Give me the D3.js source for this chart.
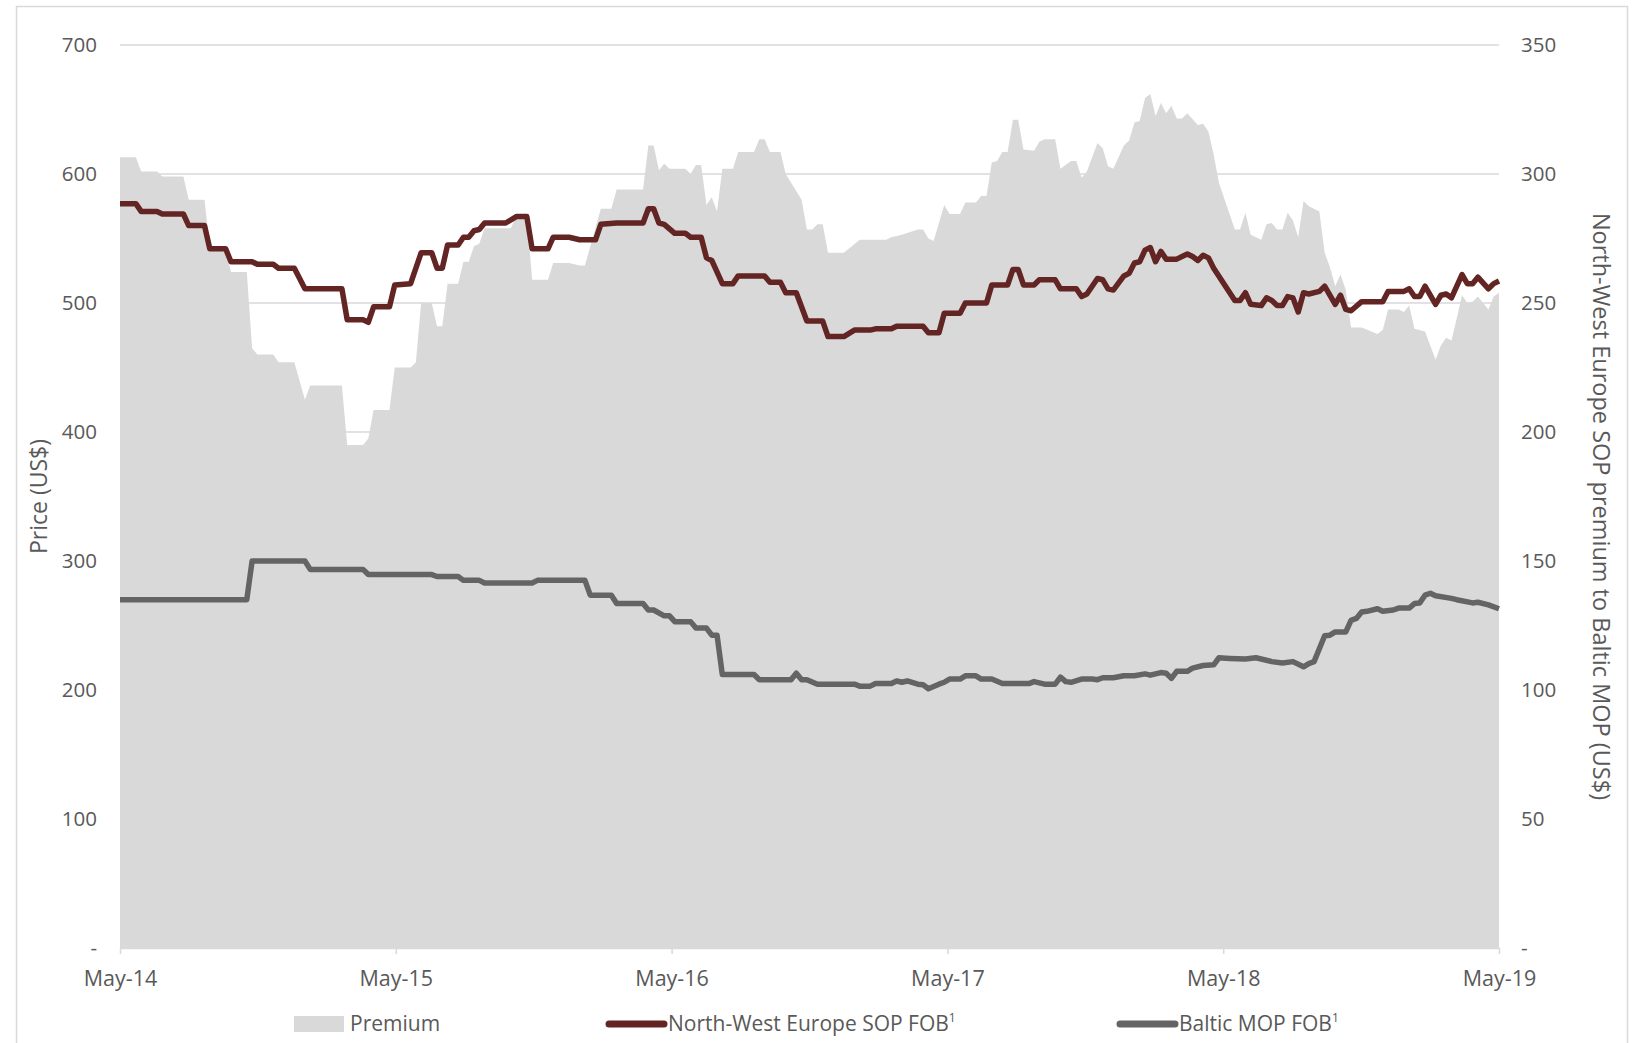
<!DOCTYPE html>
<html>
<head>
<meta charset="utf-8">
<script src="https://cdn.jsdelivr.net/npm/d3@7"></script>
<style>
    body { margin: 0; background: #fff; }
    svg { display: block; font-family: "Open Sans", sans-serif; }
</style>
</head>
<body>
<svg id="chart" width="1637" height="1043"></svg>
<script>
// Weekly series from May-14 to May-19, stored as [week index, US$]
const weekCount = 261;
const xTickLabels = ['May-14', 'May-15', 'May-16', 'May-17', 'May-18', 'May-19'];
const leftTicks = [0, 100, 200, 300, 400, 500, 600, 700];
const rightTicks = [0, 50, 100, 150, 200, 250, 300, 350];

// Premium (right axis)
const premium = [
    [0,306.5],[3,306.5],[4,301],[7,301],[8,299],[12,299],[13,290],[16,290],[17,271],[20,271],
    [21,262],[24,262],[25,232.5],[26,230],[29,230],[30,227],[33,227],[35,212.5],[36,218],[42,218],
    [43,195],[46,195],[47,197.5],[48,208.5],[51,208.5],[52,225],[55,225],[56,227],[57,250],[59,250],
    [60,241],[61,241],[62,257.5],[64,257.5],[65,266],[66,266],[67,272],[68,273],[69,279],[74,279],
    [75,284],[77,284],[78,259],[81,259],[82,265.5],[85,265.5],[87,264.5],[88,264.5],[91,286.5],[93,286.5],
    [94,294],[99,294],[100,311],[101,311],[102,301.5],[103,304],[104,302],[107,302],[108,300],[109,303.5],
    [110,303.5],[111,288],[112,291],[113,285.5],[114,302],[116,302],[117,308.5],[120,308.5],[121,313.5],[122,313.5],
    [123,308.5],[125,308.5],[126,300],[129,290],[130,278.5],[131,278.5],[132,280.5],[133,280.5],[134,269.5],[137,269.5],
    [140,274.5],[145,274.5],[146,275.5],[148,276.5],[151,278.5],[152,278.5],[153,275],[154,274],[156,288],[157,284.5],
    [159,284.5],[160,289],[162,289],[163,291.5],[164,291.5],[165,304.5],[166,305],[167,308.5],[168,308.5],[169,321],
    [170,321],[171,309.5],[173,309],[174,312.5],[175,313.5],[177,313.5],[178,302],[180,305],[181,305],[182,298.5],
    [183,301],[185,312],[186,310],[187,303],[188,302],[190,311],[191,313],[192,320],[193,320.5],[194,329.5],
    [195,331],[196,322.5],[197,327.5],[198,323.5],[199,326.5],[200,321.5],[201,321.5],[202,323.5],[204,319],[205,319.5],
    [206,316.5],[207,307.5],[208,296.5],[211,278.5],[212,278.5],[213,285],[214,276.5],[216,274.5],[217,280.5],[218,281],
    [219,278.5],[220,278.5],[221,285],[222,282],[223,275.5],[224,289.5],[225,287.5],[227,285.5],[228,269.5],[229,264],
    [230,256.5],[231,261],[232,255],[233,240.5],[235,240.5],[238,238],[239,239.5],[240,247.5],[242,247.5],[243,246.5],
    [244,249],[245,240],[247,239],[249,228],[250,233.5],[251,236.5],[252,235.5],[253,244],[254,253],[255,250],
    [256,250.5],[257,252.5],[259,247.5],[260,252.5],[261,254]
];

// North-West Europe SOP FOB (left axis)
const sopFob = [
    [0,577],[3,577],[4,571],[7,571],[8,569],[12,569],[13,560],[16,560],[17,542],[20,542],
    [21,532],[25,532],[26,530],[29,530],[30,527],[33,527],[35,511],[42,511],[43,487],[46,487],
    [47,485],[48,497],[51,497],[52,514],[55,515],[57,539],[59,539],[60,527],[61,527],[62,545],
    [64,545],[65,551],[66,551],[67,556],[68,557],[69,562],[73,562],[75,567],[77,567],[78,542],
    [81,542],[82,551],[85,551],[87,549],[90,549],[91,561],[94,562],[99,562],[100,573],[101,573],
    [102,562],[103,561],[105,554],[107,554],[108,551],[110,551],[111,535],[112,533],[114,515],[116,515],
    [117,521],[122,521],[123,516],[125,516],[126,508],[128,508],[130,486],[133,486],[134,474],[137,474],
    [139,479],[142,479],[143,480],[146,480],[147,482],[152,482],[153,477],[155,477],[156,492],[159,492],
    [160,500],[164,500],[165,514],[168,514],[169,526],[170,526],[171,514],[173,514],[174,518],[177,518],
    [178,511],[181,511],[182,505],[183,507],[185,519],[186,518],[187,511],[188,510],[190,521],[191,523],
    [192,531],[193,532],[194,541],[195,543],[196,532],[197,540],[198,534],[200,534],[202,538],[203,536],
    [204,533],[205,537],[206,535],[207,527],[211,502],[212,502],[213,508],[214,499],[216,498],[217,504],
    [218,502],[219,498],[220,498],[221,505],[222,504],[223,493],[224,508],[225,507],[227,509],[228,513],
    [230,499],[231,506],[232,495],[233,494],[235,501],[239,501],[240,509],[243,509],[244,511],[245,505],
    [246,505],[247,513],[249,499],[250,506],[251,507],[252,504],[254,522],[255,515],[256,515],[257,520],
    [259,511],[260,515],[261,517]
];

// Baltic MOP FOB (left axis)
const mopFob = [
    [0,270],[24,270],[25,300],[35,300],[36,293.5],[46,293.5],[47,289.5],[59,289.5],[60,288],[64,288],
    [65,285],[68,285],[69,283],[78,283],[79,285],[88,285],[89,273.5],[93,273.5],[94,267],[99,267],
    [100,262],[101,262],[103,257.5],[104,257.5],[105,253],[108,253],[109,248],[111,248],[112,242.5],[113,242.5],
    [114,212],[120,212],[121,208],[127,208],[128,213],[129,208],[130,208],[132,204.5],[139,204.5],[140,203],
    [142,203],[143,205],[146,205],[147,207],[148,206],[149,207],[151,204.5],[152,204],[153,201],[155,204.5],
    [156,206],[157,208.5],[159,208.5],[160,211],[162,211],[163,208.5],[165,208.5],[167,205],[172,205],[173,206.5],
    [175,204.5],[177,204.5],[178,210],[179,206.5],[180,206],[182,208.5],[184,208.5],[185,208],[186,209.5],[188,209.5],
    [190,211],[192,211],[194,212.5],[195,211.5],[197,213.5],[198,213],[199,209],[200,214.5],[202,214.5],[203,217],
    [205,219],[207,219.5],[208,225],[210,224.5],[213,224],[215,225],[218,222],[220,221],[222,222],[224,218],
    [225,220.5],[226,222],[228,242],[229,242.5],[230,245],[232,245],[233,254],[234,255.5],[235,260.5],[236,261],
    [238,263],[239,261],[241,262],[242,263.5],[244,263.5],[245,267],[246,267.5],[247,273.5],[248,275],[249,273],
    [252,271],[253,270],[256,267.5],[257,268],[259,266],[261,263]
];

const textColor = '#595959';
const gridColor = '#d9d9d9';
const premiumColor = '#d9d9d9';
const sopColor = '#632523';
const mopColor = '#646464';

const svg = d3.select('#chart');
const plot = { left: 120, right: 1499, top: 45, bottom: 948 };

const x = d3.scaleLinear().domain([0, weekCount]).range([plot.left, plot.right]);
const yLeft = d3.scaleLinear().domain([0, 700]).range([plot.bottom, plot.top]);
const yRight = d3.scaleLinear().domain([0, 350]).range([plot.bottom, plot.top]);
const tickWeeks = xTickLabels.map((_, i) => i * weekCount / (xTickLabels.length - 1));

// Outer frame
svg.append('rect')
    .attr('x', 16.5).attr('y', 6.5)
    .attr('width', 1611).attr('height', 1100)
    .attr('fill', 'none')
    .attr('stroke', gridColor)
    .attr('stroke-width', 1.5);

// Gridlines
svg.append('g')
    .selectAll('line')
    .data(leftTicks.filter(d => d > 0))
    .join('line')
    .attr('x1', plot.left).attr('x2', plot.right)
    .attr('y1', d => yLeft(d)).attr('y2', d => yLeft(d))
    .attr('stroke', gridColor)
    .attr('stroke-width', 1.5);

// Premium area
const area = d3.area()
    .x(d => x(d[0]))
    .y0(yRight(0))
    .y1(d => yRight(d[1]));

svg.append('path')
    .datum(premium)
    .attr('d', area)
    .attr('fill', premiumColor);

// Axes
const fmt = d => d === 0 ? '-' : d;

const leftAxis = svg.append('g')
    .attr('transform', `translate(${plot.left},0)`)
    .call(d3.axisLeft(yLeft).tickValues(leftTicks).tickSize(0).tickPadding(23).tickFormat(fmt));

const rightAxis = svg.append('g')
    .attr('transform', `translate(${plot.right},0)`)
    .call(d3.axisRight(yRight).tickValues(rightTicks).tickSize(0).tickPadding(22).tickFormat(fmt));

const bottomAxis = svg.append('g')
    .attr('transform', `translate(0,${plot.bottom})`)
    .call(d3.axisBottom(x).tickValues(tickWeeks).tickSize(6).tickSizeOuter(0).tickPadding(17)
        .tickFormat((d, i) => xTickLabels[i]));

[leftAxis, rightAxis].forEach(a => a.select('.domain').remove());
bottomAxis.select('.domain').attr('stroke', gridColor).attr('stroke-width', 1.5);
bottomAxis.selectAll('.tick line').attr('stroke', gridColor).attr('stroke-width', 1.5);

svg.selectAll('.tick text')
    .attr('fill', textColor)
    .attr('font-size', '20.5px')
    .attr('font-family', '"Open Sans", sans-serif');
bottomAxis.selectAll('.tick text').attr('font-size', '21.5px');

// Lines
const line = d3.line()
    .x(d => x(d[0]))
    .y(d => yLeft(d[1]));

svg.append('path')
    .datum(mopFob)
    .attr('d', line)
    .attr('fill', 'none')
    .attr('stroke', mopColor)
    .attr('stroke-width', 5.5)
    .attr('stroke-linejoin', 'round');

svg.append('path')
    .datum(sopFob)
    .attr('d', line)
    .attr('fill', 'none')
    .attr('stroke', sopColor)
    .attr('stroke-width', 5.5)
    .attr('stroke-linejoin', 'round');

// Axis titles
svg.append('text')
    .attr('transform', `translate(47,${(plot.top + plot.bottom) / 2}) rotate(-90)`)
    .attr('text-anchor', 'middle')
    .attr('fill', textColor)
    .attr('font-size', '23px')
    .text('Price (US$)');

svg.append('text')
    .attr('transform', `translate(1593,${(plot.top + plot.bottom) / 2 + 10}) rotate(90)`)
    .attr('text-anchor', 'middle')
    .attr('fill', textColor)
    .attr('font-size', '23.5px')
    .text('North-West Europe SOP premium to Baltic MOP (US$)');

// Legend
const legendY = 1024;
const legend = svg.append('g');

legend.append('rect')
    .attr('x', 294).attr('y', legendY - 8)
    .attr('width', 50).attr('height', 16)
    .attr('fill', premiumColor);
legend.append('text')
    .attr('x', 350).attr('y', legendY + 7)
    .attr('fill', textColor).attr('font-size', '21px')
    .text('Premium');

const legendLines = [
    { x: 609, label: 'North-West Europe SOP FOB', color: sopColor },
    { x: 1120, label: 'Baltic MOP FOB', color: mopColor }
];

legendLines.forEach(item => {
    legend.append('line')
        .attr('x1', item.x).attr('x2', item.x + 55)
        .attr('y1', legendY).attr('y2', legendY)
        .attr('stroke', item.color)
        .attr('stroke-width', 7)
        .attr('stroke-linecap', 'round');
    const t = legend.append('text')
        .attr('x', item.x + 59).attr('y', legendY + 7)
        .attr('fill', textColor).attr('font-size', '21px');
    t.append('tspan').text(item.label);
    t.append('tspan').attr('dy', -9).attr('font-size', '12px').text('1');
});
</script>
</body>
</html>
